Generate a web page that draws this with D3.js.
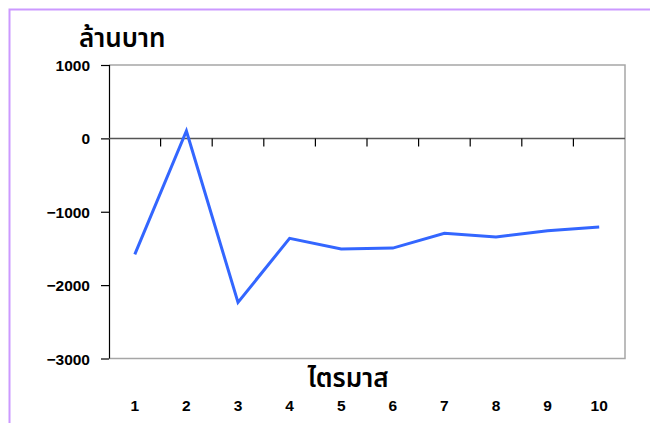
<!DOCTYPE html>
<html>
<head>
<meta charset="utf-8">
<script src="https://cdn.jsdelivr.net/npm/d3@7/dist/d3.min.js"></script>
<style>
  html, body { margin: 0; padding: 0; background: #fff; }
  svg { display: block; }
</style>
</head>
<body>
<svg id="chart" width="650" height="423"></svg>
<script>
// Quarterly values, million baht
const quarters = ["1", "2", "3", "4", "5", "6", "7", "8", "9", "10"];
const values = [-1580, 100, -2235, -1362, -1508, -1495, -1294, -1345, -1259, -1208];
const yTicks = [1000, 0, -1000, -2000, -3000];
const yTitle = "ล้านบาท";
const xTitle = "ไตรมาส";

const NUM_FONT = '"Liberation Sans", Arial, sans-serif';
const THAI_FONT = '"Noto Sans Thai", "Noto Sans Thai UI", Tahoma, "Noto Sans", sans-serif';

const svg = d3.select("#chart");
const W = 650, H = 423;
const plot = { left: 109, right: 625, top: 65, bottom: 358.5 };

// outer frame
svg.append("path")
  .attr("d", `M9.5,${H} V9.5 H${W}`)
  .attr("fill", "none")
  .attr("stroke", "#cc99ff")
  .attr("stroke-width", 2);

const x = d3.scaleBand().domain(quarters).range([plot.left, plot.right]);
const y = d3.scaleLinear().domain([-3000, 1000]).range([plot.bottom, plot.top]);

// plot border: top, right, bottom
svg.append("path")
  .attr("d", `M${plot.left},${y(1000)} H${plot.right} V${y(-3000)} H${plot.left}`)
  .attr("fill", "none")
  .attr("stroke", "#a6a6a6")
  .attr("stroke-width", 1.5);

function styleNum(sel) {
  sel.style("font-family", NUM_FONT)
     .style("font-weight", "bold")
     .style("font-size", "15.5px")
     .style("fill", "#000");
}

// value axis
const yAxis = svg.append("g")
  .attr("transform", `translate(${plot.left},0)`)
  .call(d3.axisLeft(y).tickValues(yTicks).tickSize(8).tickPadding(11).tickFormat(d3.format("d")));
yAxis.select(".domain").attr("stroke", "#000").attr("stroke-width", 1.2).attr("d", `M0.5,${y(1000)}V${y(-3000)}`);
yAxis.selectAll(".tick line").attr("stroke", "#000").attr("stroke-width", 1.2);
yAxis.selectAll(".tick text").call(styleNum).attr("dy", "0.36em");

// zero line with category boundary ticks
svg.append("line")
  .attr("x1", plot.left).attr("x2", plot.right)
  .attr("y1", y(0)).attr("y2", y(0))
  .attr("stroke", "#555").attr("stroke-width", 1.5);
const bounds = quarters.map(q => x(q)).concat([x(quarters[quarters.length - 1]) + x.bandwidth()]);
svg.append("g").selectAll("line")
  .data(bounds.slice(1, -1))
  .join("line")
  .attr("x1", d => d).attr("x2", d => d)
  .attr("y1", y(0)).attr("y2", y(0) + 8)
  .attr("stroke", "#000").attr("stroke-width", 1.2);

// category labels
const xAxis = svg.append("g")
  .attr("transform", `translate(0,${plot.bottom})`)
  .call(d3.axisBottom(x).tickSize(0).tickPadding(41));
xAxis.select(".domain").remove();
xAxis.selectAll(".tick text").call(styleNum);

// series line
const line = d3.line()
  .x((d, i) => x(quarters[i]) + x.bandwidth() / 2)
  .y(d => y(d));
svg.append("path")
  .datum(values)
  .attr("d", line)
  .attr("fill", "none")
  .attr("stroke", "#3366ff")
  .attr("stroke-width", 3)
  .attr("stroke-linejoin", "miter");

// titles
function styleThai(sel) {
  sel.style("font-family", THAI_FONT)
     .style("font-size", "26px")
     .style("font-weight", "600")
     .style("fill", "#000");
}
svg.append("text").attr("x", 79).attr("y", 47).text(yTitle).call(styleThai);
svg.append("text").attr("x", 348).attr("y", 387).attr("text-anchor", "middle").text(xTitle).call(styleThai);
</script>
</body>
</html>
